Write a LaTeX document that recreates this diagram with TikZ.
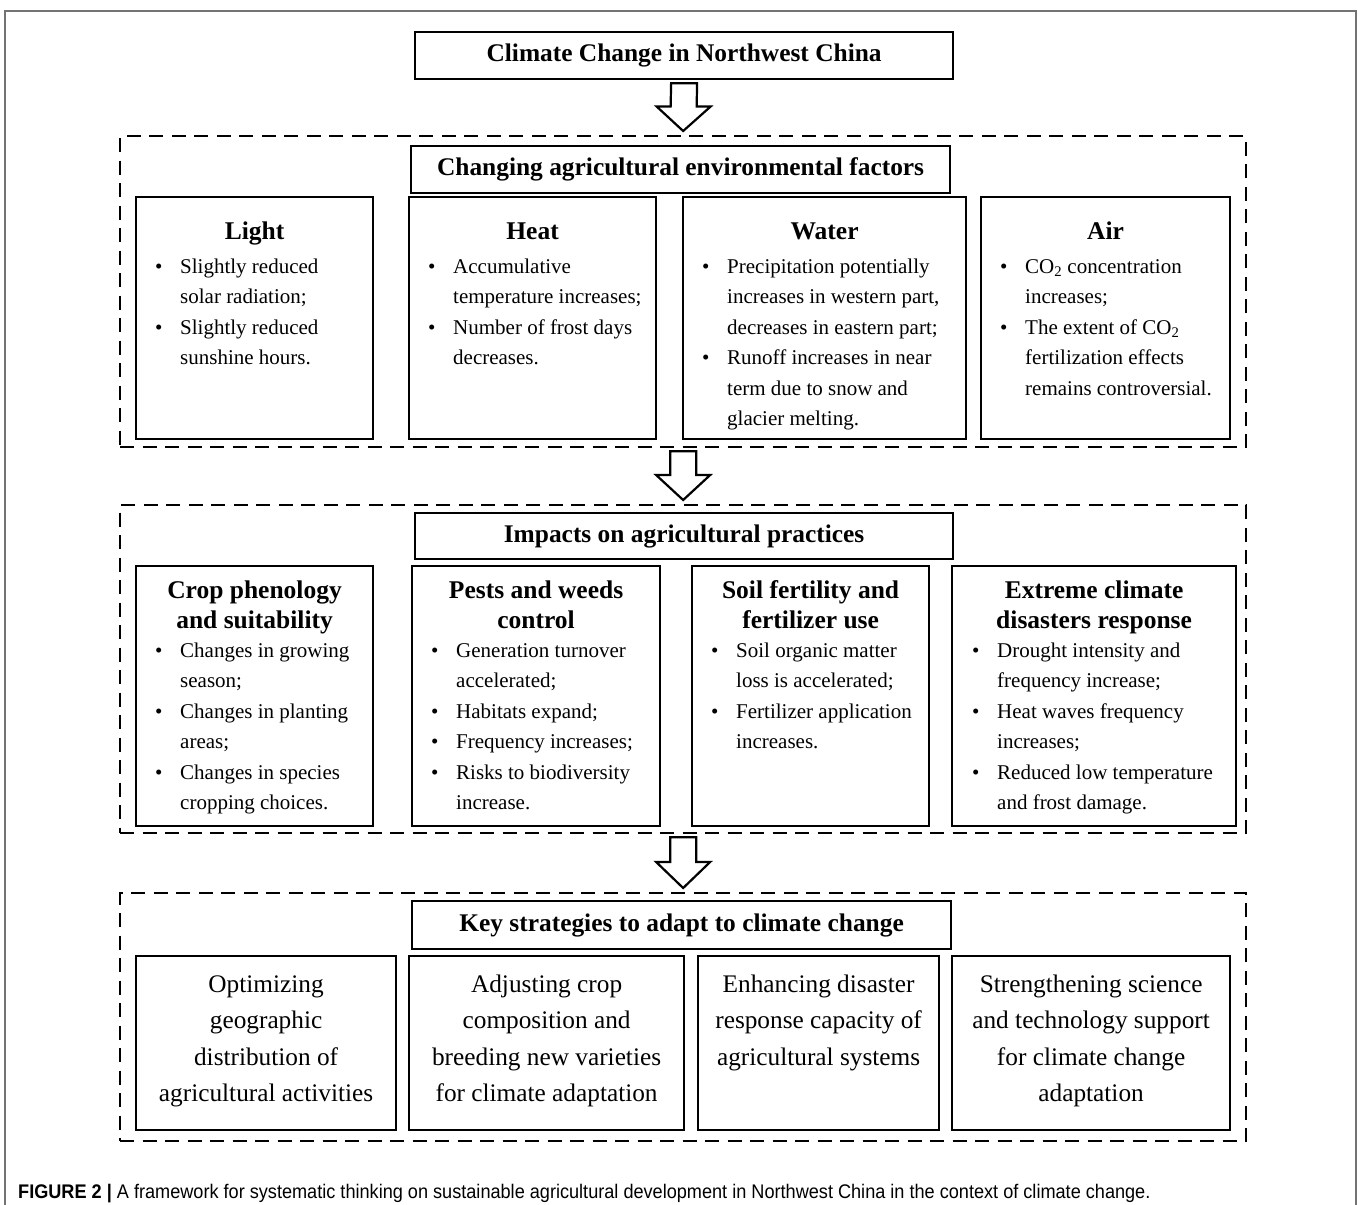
\documentclass[tikz,border=0pt]{standalone}
\usepackage{fontspec}
\setmainfont{Liberation Serif}
\newfontfamily\capfont[FakeStretch=0.92]{Liberation Sans}
\usetikzlibrary{calc}
\newcommand\bu{\makebox[25pt][l]{\textbullet}}
\newcommand\ind{\hspace*{25pt}}
\newcommand\cotwo{CO\textsubscript{2}}
\newcommand\llines[1]{\begin{tabular}[t]{@{}l@{}}#1\end{tabular}}
\newcommand\clines[1]{\begin{tabular}[t]{@{}c@{}}#1\end{tabular}}
\tikzset{
  box/.style={draw, line width=2.2pt, rectangle, inner sep=0pt, anchor=north west},
  dbox/.style={draw, line width=2.3pt, dash pattern=on 14pt off 8.5pt, rectangle, inner sep=0pt, anchor=north west},
  headbox/.style={box, font=\bfseries\fontsize{25.4}{28}\selectfont},
  htitle/.style={font=\bfseries\fontsize{25.5}{30}\selectfont, anchor=base, inner sep=0pt},
  blist/.style={font=\fontsize{21}{30.5}\selectfont, anchor=base west, inner sep=0pt},
  ctext/.style={font=\fontsize{25.3}{36.5}\selectfont, anchor=base, inner sep=0pt},
  barrow/.style={draw, line width=2.2pt, fill=white, line join=miter},
  frame/.style={draw=black!55, line width=1.2pt},
  captext/.style={font=\capfont\fontsize{19.7}{22}\selectfont, anchor=base west, inner sep=0pt, text=black}
}
\newcommand\blockarrow[2]{%
  \draw[barrow] ($(#1.south)+(-13,3)$) -- ($(#1.south)+(13,3)$)
    -- ($(#1.south)!0.48!(#2.north)+(13,0)$) -- ($(#1.south)!0.48!(#2.north)+(27,0)$)
    -- ($(#2.north)+(0,-4)$)
    -- ($(#1.south)!0.48!(#2.north)+(-27,0)$) -- ($(#1.south)!0.48!(#2.north)+(-13,0)$) -- cycle;}
\begin{document}
\begin{tikzpicture}[x=1pt, y=-1pt]
\useasboundingbox (0,0) rectangle (1358,1205);
% outer frame
\draw[frame] (5,1206) -- (5,11) -- (1356,11) -- (1356,1206);

% top title
\node[headbox, minimum width=538pt, minimum height=47pt] (top) at (414,31) {Climate Change in Northwest China};

% ---------- section 1 ----------
\node[dbox, minimum width=1126pt, minimum height=311pt] (env) at (119,135) {};
\node[headbox, minimum width=539pt, minimum height=47pt] (envh) at (410,145) {Changing agricultural environmental factors};

\node[box, minimum width=237pt, minimum height=242pt] (light) at (135,196) {};
\node[box, minimum width=247pt, minimum height=242pt] (heat) at (408,196) {};
\node[box, minimum width=283pt, minimum height=242pt] (water) at (682,196) {};
\node[box, minimum width=249pt, minimum height=242pt] (air) at (980,196) {};

\node[htitle] (lightt) at ($(light.north)+(0,43)$) {Light};
\node[htitle] (heatt) at ($(heat.north)+(0,43)$) {Heat};
\node[htitle] (watert) at ($(water.north)+(0,43)$) {Water};
\node[htitle] (airt) at ($(air.north)+(0,43)$) {Air};

\node[blist] (lightl) at ($(light.north west)+(20,77)$) {\llines{\bu Slightly reduced\\ \ind solar radiation;\\ \bu Slightly reduced\\ \ind sunshine hours.}};
\node[blist] (heatl) at ($(heat.north west)+(20,77)$) {\llines{\bu Accumulative\\ \ind temperature increases;\\ \bu Number of frost days\\ \ind decreases.}};
\node[blist] (waterl) at ($(water.north west)+(20,77)$) {\llines{\bu Precipitation potentially\\ \ind increases in western part,\\ \ind decreases in eastern part;\\ \bu Runoff increases in near\\ \ind term due to snow and\\ \ind glacier melting.}};
\node[blist] (airl) at ($(air.north west)+(20,77)$) {\llines{\bu \cotwo{} concentration\\ \ind increases;\\ \bu The extent of \cotwo\\ \ind fertilization effects\\ \ind remains controversial.}};

% ---------- section 2 ----------
\node[dbox, minimum width=1126pt, minimum height=328pt] (imp) at (119,504) {};
\node[headbox, minimum width=538pt, minimum height=46pt] (imph) at (414,512) {Impacts on agricultural practices};

\node[box, minimum width=237pt, minimum height=260pt] (crop) at (135,565) {};
\node[box, minimum width=248pt, minimum height=260pt] (pest) at (411,565) {};
\node[box, minimum width=237pt, minimum height=260pt] (soil) at (691,565) {};
\node[box, minimum width=284pt, minimum height=260pt] (ext) at (951,565) {};

\node[htitle] (cropt) at ($(crop.north)+(0,33)$) {\clines{Crop phenology\\and suitability}};
\node[htitle] (pestt) at ($(pest.north)+(0,33)$) {\clines{Pests and weeds\\control}};
\node[htitle] (soilt) at ($(soil.north)+(0,33)$) {\clines{Soil fertility and\\fertilizer use}};
\node[htitle] (extt) at ($(ext.north)+(0,33)$) {\clines{Extreme climate\\disasters response}};

\node[blist] (cropl) at ($(crop.north west)+(20,92)$) {\llines{\bu Changes in growing\\ \ind season;\\ \bu Changes in planting\\ \ind areas;\\ \bu Changes in species\\ \ind cropping choices.}};
\node[blist] (pestl) at ($(pest.north west)+(20,92)$) {\llines{\bu Generation turnover\\ \ind accelerated;\\ \bu Habitats expand;\\ \bu Frequency increases;\\ \bu Risks to biodiversity\\ \ind increase.}};
\node[blist] (soill) at ($(soil.north west)+(20,92)$) {\llines{\bu Soil organic matter\\ \ind loss is accelerated;\\ \bu Fertilizer application\\ \ind increases.}};
\node[blist] (extl) at ($(ext.north west)+(21,92)$) {\llines{\bu Drought intensity and\\ \ind frequency increase;\\ \bu Heat waves frequency\\ \ind increases;\\ \bu Reduced low temperature\\ \ind and frost damage.}};

% ---------- section 3 ----------
\node[dbox, minimum width=1126pt, minimum height=248pt] (key) at (119,892) {};
\node[headbox, minimum width=539pt, minimum height=48pt] (keyh) at (411,900) {Key strategies to adapt to climate change};

\node[box, minimum width=260pt, minimum height=174pt] (s1) at (135,955) {};
\node[box, minimum width=275pt, minimum height=174pt] (s2) at (408,955) {};
\node[box, minimum width=241pt, minimum height=174pt] (s3) at (697,955) {};
\node[box, minimum width=278pt, minimum height=174pt] (s4) at (951,955) {};

\node[ctext] (s1t) at ($(s1.north)+(0,37)$) {\clines{Optimizing\\geographic\\distribution of\\agricultural activities}};
\node[ctext] (s2t) at ($(s2.north)+(0,37)$) {\clines{Adjusting crop\\composition and\\breeding new varieties\\for climate adaptation}};
\node[ctext] (s3t) at ($(s3.north)+(0,37)$) {\clines{Enhancing disaster\\response capacity of\\agricultural systems}};
\node[ctext] (s4t) at ($(s4.north)+(0,37)$) {\clines{Strengthening science\\and technology support\\for climate change\\adaptation}};

% ---------- arrows ----------
\blockarrow{top}{env}
\blockarrow{env}{imp}
\blockarrow{imp}{key}

% caption
\node[captext] (cap) at (18,1198) {\textbf{FIGURE 2 |} A framework for systematic thinking on sustainable agricultural development in Northwest China in the context of climate change.};
\end{tikzpicture}
\end{document}
